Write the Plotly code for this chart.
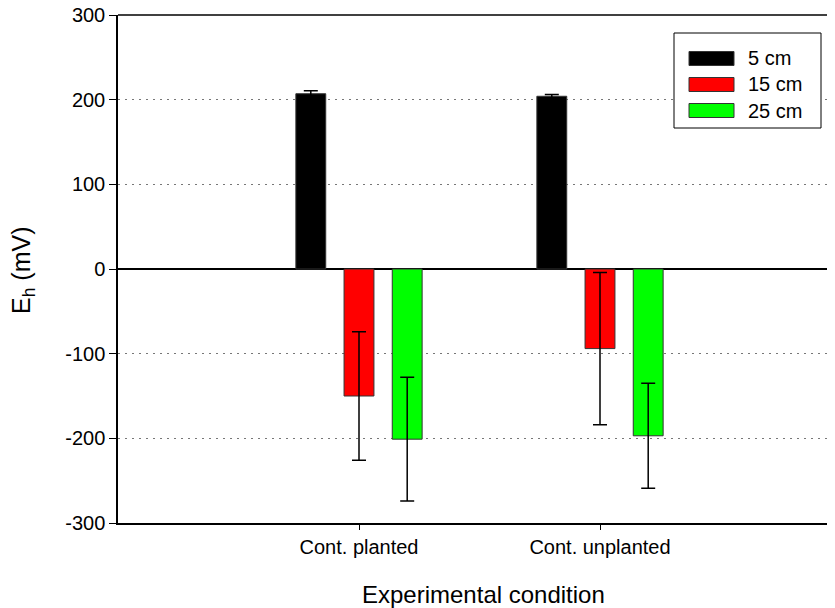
import plotly.graph_objects as go

categories = ["Cont. planted", "Cont. unplanted"]
cat_pos = [1, 2]
series_names = ["5 cm", "15 cm", "25 cm"]
values_5cm = [207, 204]
values_15cm = [-150, -94]
values_25cm = [-201, -197]
err_5cm = [3.5, 2]
err_15cm = [76, 90]
err_25cm = [73, 62]
colors = ["#000000", "#ff0000", "#00ff00"]
y_ticks = [-300, -200, -100, 0, 100, 200, 300]
y_ticktext = [str(v) for v in y_ticks]

FONT = "Liberation Sans, Arial, sans-serif"

fig = go.Figure()
for name, vals, errs, col in zip(series_names, [values_5cm, values_15cm, values_25cm],
                                 [err_5cm, err_15cm, err_25cm], colors):
    fig.add_trace(go.Bar(
        x=cat_pos, y=vals, name=name, showlegend=False,
        marker=dict(color=col, line=dict(color="#333333", width=1)),
        error_y=dict(type="data", array=errs, visible=True, color="black",
                     thickness=1.5, width=7),
    ))

# page body has an 8px default margin; screen coords -> figure coords
OFF = 8
W, H = 835 - OFF, 608 - OFF
px_left, px_right, px_top, px_bot = 118, 835, 15, 523   # plot area in screen px
left, top = px_left - OFF, px_top - OFF
right = (835 - OFF) - (px_right - OFF)
bottom = H - (px_bot - OFF)
plot_w = px_right - px_left
plot_h = px_bot - px_top


def fx(sx):
    return (sx - px_left) / plot_w


def fy(sy):
    return (px_bot - sy) / plot_h


shapes = [dict(type="line", xref="paper", yref="paper", x0=0, x1=1, y0=1, y1=1,
               line=dict(color="black", width=1.5))]
annotations = [
    dict(text="Experimental condition", xref="paper", yref="paper",
         x=fx(483), y=fy(594), xanchor="center", yanchor="middle",
         showarrow=False, font=dict(size=24)),
    dict(text="E<sub>h</sub> (mV)", xref="paper", yref="paper",
         x=fx(23), y=fy(270), xanchor="center", yanchor="middle", textangle=-90,
         showarrow=False, font=dict(size=25)),
]

# legend box
shapes.append(dict(type="rect", xref="paper", yref="paper",
                   x0=fx(674), x1=fx(821), y0=fy(128), y1=fy(33),
                   line=dict(color="black", width=1), fillcolor="white", layer="above"))
for i, (name, col) in enumerate(zip(series_names, colors)):
    cy = 58.5 + 26 * i
    shapes.append(dict(type="rect", xref="paper", yref="paper",
                       x0=fx(689), x1=fx(734), y0=fy(cy + 7), y1=fy(cy - 7),
                       line=dict(color="#333333", width=1), fillcolor=col, layer="above"))
    annotations.append(dict(text=name, xref="paper", yref="paper",
                            x=fx(746), y=fy(cy), xanchor="left", yanchor="middle",
                            showarrow=False, font=dict(size=20)))

fig.update_layout(
    width=W, height=H,
    margin=dict(l=left, r=right, t=top, b=bottom, pad=0),
    plot_bgcolor="white", paper_bgcolor="white",
    font=dict(family=FONT, color="black", size=20),
    barmode="group", bargap=0.4, bargroupgap=0.38,
    showlegend=False,
    xaxis=dict(range=[0, plot_w / 241.0], tickvals=cat_pos, ticktext=categories,
               showgrid=False, zeroline=False, showline=True, linecolor="black",
               linewidth=1.5, ticks="outside", ticklen=5, tickcolor="black",
               tickfont=dict(size=20), automargin=False),
    yaxis=dict(range=[-300, 300], tickvals=y_ticks, ticktext=y_ticktext, showgrid=True,
               gridcolor="#777777", griddash="2px,5px", gridwidth=1,
               zeroline=True, zerolinecolor="black", zerolinewidth=1.5,
               showline=True, linecolor="black", linewidth=1.5,
               ticks="outside", ticklen=7, tickcolor="black",
               tickfont=dict(size=20), automargin=False,
               ticklabeloverflow="allow"),
    shapes=shapes,
    annotations=annotations,
)
fig.write_html("out.html")
